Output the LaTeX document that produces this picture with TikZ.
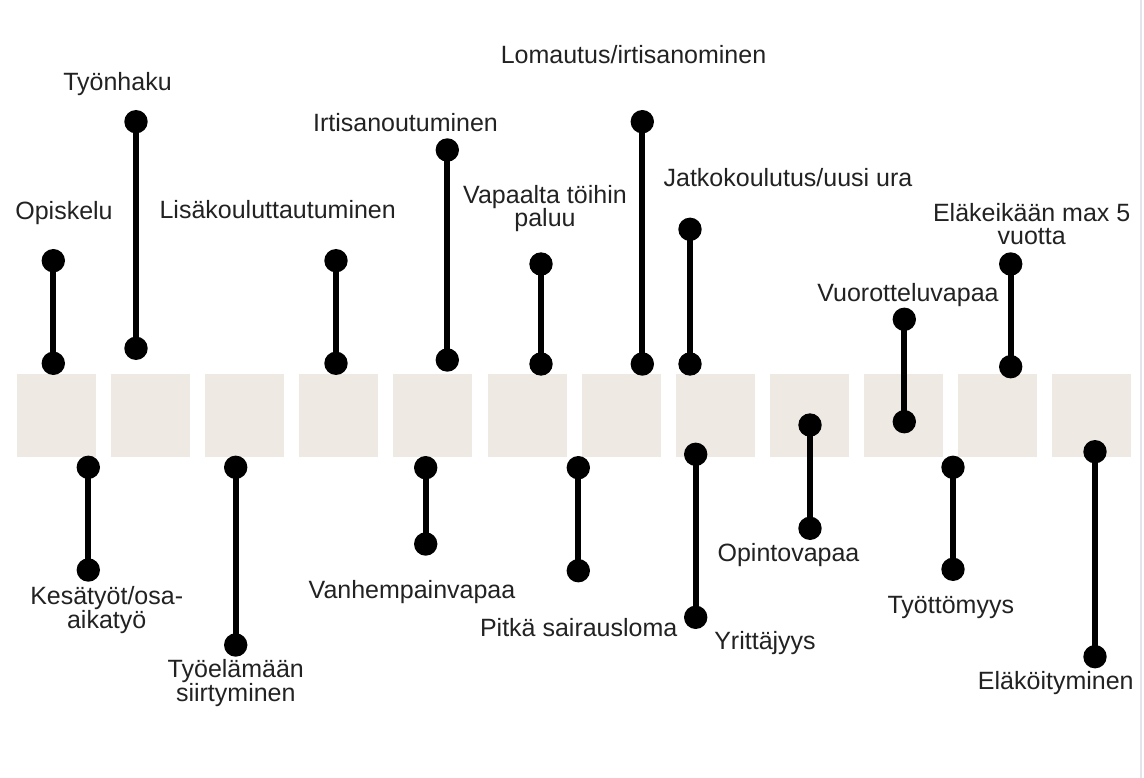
\documentclass[tikz,border=0pt]{standalone}
\usepackage{fontspec}
\setmainfont{Liberation Sans}
\definecolor{tile}{RGB}{238,234,227}
\definecolor{ink}{RGB}{34,34,34}
\definecolor{edge}{RGB}{228,228,234}
\begin{document}
\begin{tikzpicture}[x=1pt,y=-1pt,
  dot/.style={circle,fill=black,minimum size=23.4pt,inner sep=0pt},
  stem/.style={line width=6pt,black},
  lbl/.style={text=ink,inner sep=0pt,anchor=base,align=center,
    font=\fontsize{25}{23.4}\selectfont},
  tilebox/.style={fill=tile,draw=none}]
\useasboundingbox (0,0) rectangle (1144,778);
\fill[white] (0,0) rectangle (1144,778);
\draw[edge,line width=2pt] (1141,0) -- (1141,778);

% row of twelve tiles
\foreach \i in {0,...,11}{
  \fill[tile] ({17+\i*94.1},374) rectangle ({96+\i*94.1},457);
}

% events above the row
\node[dot] (op1) at (53.3,260.7) {};   \node[dot] (op2) at (53.3,363.3) {};
\node[dot] (ty1) at (136,121.7) {};    \node[dot] (ty2) at (136,348.3) {};
\node[dot] (li1) at (336,260.7) {};    \node[dot] (li2) at (336,363.3) {};
\node[dot] (ir1) at (447.3,150) {};    \node[dot] (ir2) at (447.3,360) {};
\node[dot] (va1) at (541,264) {};      \node[dot] (va2) at (541,364) {};
\node[dot] (lo1) at (642.3,121.7) {};  \node[dot] (lo2) at (642.3,364) {};
\node[dot] (ja1) at (690,229.3) {};    \node[dot] (ja2) at (690,364) {};
\node[dot] (vu1) at (904.3,319.3) {};  \node[dot] (vu2) at (904.3,421.7) {};
\node[dot] (el1) at (1010.7,264) {};   \node[dot] (el2) at (1010.7,366.7) {};

% events below the row
\node[dot] (ke1) at (88.3,467.3) {};   \node[dot] (ke2) at (88.3,570) {};
\node[dot] (tl1) at (235.7,467.3) {};  \node[dot] (tl2) at (235.7,645) {};
\node[dot] (vh1) at (425.7,467.7) {};  \node[dot] (vh2) at (425.7,544) {};
\node[dot] (pi1) at (578.3,467.7) {};  \node[dot] (pi2) at (578.3,570.7) {};
\node[dot] (yr1) at (695.7,454.3) {};  \node[dot] (yr2) at (695.7,617.3) {};
\node[dot] (ov1) at (810,425) {};      \node[dot] (ov2) at (810,528.3) {};
\node[dot] (tt1) at (953,467.3) {};    \node[dot] (tt2) at (953,569.3) {};
\node[dot] (ek1) at (1095,451.7) {};   \node[dot] (ek2) at (1095,656.7) {};

\foreach \a in {op,ty,li,ir,va,lo,ja,vu,el,ke,tl,vh,pi,yr,ov,tt,ek}{
  \draw[stem] (\a1.center) -- (\a2.center);
}

% labels (two-line labels are placed by the baseline of their last line)
\node[lbl] (t-op) at (64,219.3) {Opiskelu};
\node[lbl] (t-ty) at (117.5,91) {Työnhaku};
\node[lbl] (t-li) at (277.7,219) {Lisäkouluttautuminen};
\node[lbl] (t-ir) at (405.5,131.7) {Irtisanoutuminen};
\node[lbl] (t-va) at (545,226.7) {Vapaalta töihin\\paluu};
\node[lbl] (t-lo) at (633.5,63.3) {Lomautus/irtisanominen};
\node[lbl] (t-ja) at (788,186.7) {Jatkokoulutus/uusi ura};
\node[lbl] (t-vu) at (908,301.7) {Vuorotteluvapaa};
\node[lbl] (t-el) at (1031.7,245) {Eläkeikään max 5\\vuotta};

\node[lbl] (t-ke) at (106.7,628.3) {Kesätyöt/osa-\\aikatyö};
\node[lbl] (t-tl) at (235.8,701) {Työelämään\\siirtyminen};
\node[lbl] (t-vh) at (412,598.3) {Vanhempainvapaa};
\node[lbl] (t-pi) at (578.7,636.7) {Pitkä sairausloma};
\node[lbl] (t-yr) at (765,649.3) {Yrittäjyys};
\node[lbl] (t-ov) at (788.5,561.7) {Opintovapaa};
\node[lbl] (t-tt) at (950.8,613.3) {Työttömyys};
\node[lbl] (t-ek) at (1055.8,689.3) {Eläköityminen};
\end{tikzpicture}
\end{document}
